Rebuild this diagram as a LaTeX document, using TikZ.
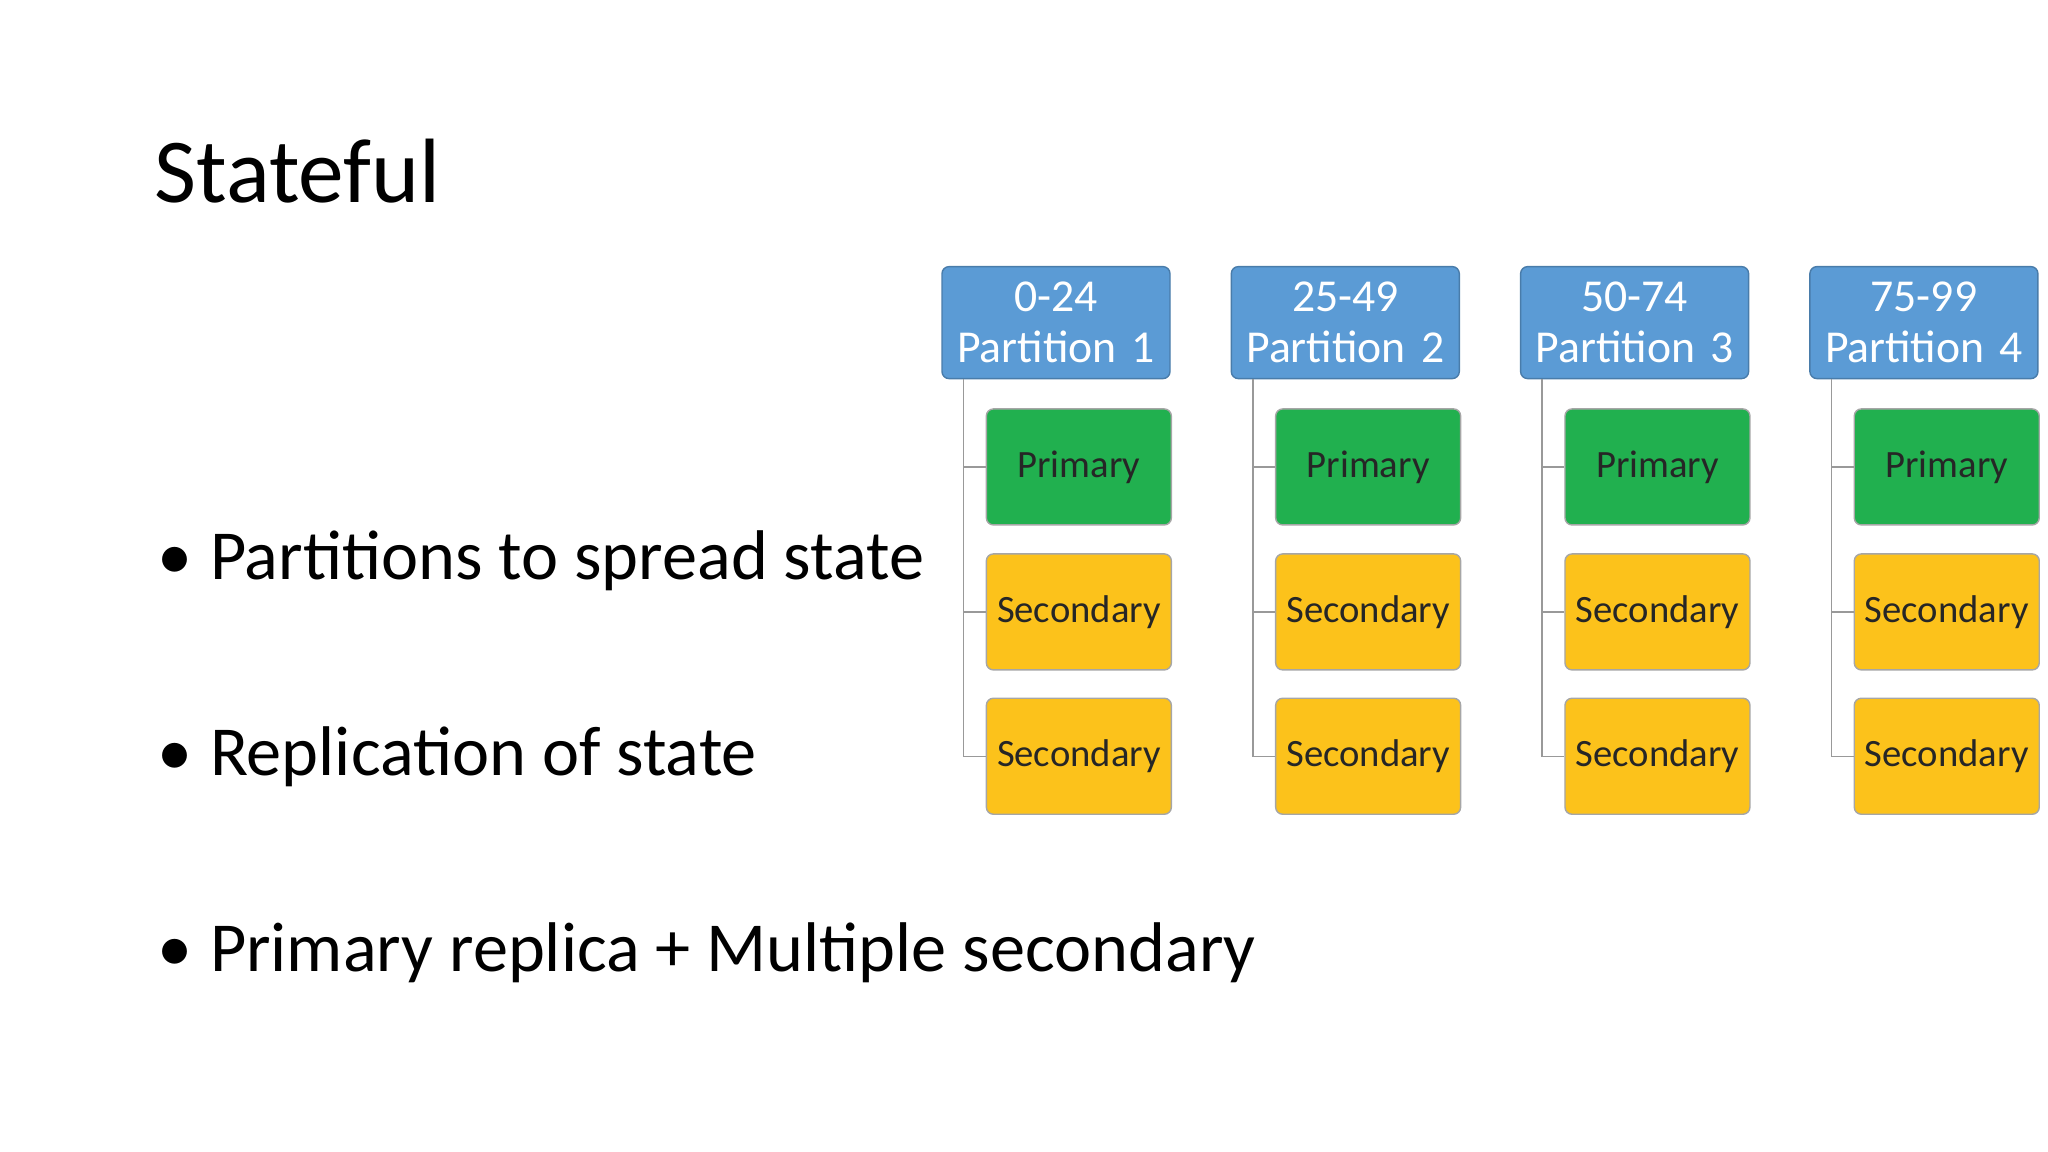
\documentclass[tikz,border=0pt]{standalone}
\usepackage{fontspec}
\setmainfont{Carlito}
\usetikzlibrary{positioning,calc}
\definecolor{partblue}{HTML}{5B9BD5}
\definecolor{primgreen}{HTML}{21B04F}
\definecolor{secyellow}{HTML}{FCC21B}
\tikzset{
  part/.style={draw=partblue!80!black, fill=partblue, rounded corners=2pt, text=white, text width=2.28cm, minimum height=1.12cm, align=center, font=\fontsize{13}{14.5}\selectfont, inner sep=0pt},
  replica/.style={draw=black!35, rounded corners=2pt, text width=1.85cm, minimum height=1.16cm, align=center, inner sep=0pt, font=\fontsize{11}{13}\selectfont, text=black!85},
  prim/.style={replica, fill=primgreen},
  sec/.style={replica, fill=secyellow},
  bullet/.style={anchor=base west, inner sep=0, font=\fontsize{20}{24}\selectfont}
}
\begin{document}
\begin{tikzpicture}[x=0.01306cm, y=-0.01306cm]
\useasboundingbox (0,0) rectangle (1568,882);
% title and bullets
\node[anchor=base west, font=\fontsize{26}{30}\selectfont, inner sep=0] (title) at (118,155) {Stateful};
\node[bullet] (b1) at (120,444) {•\hspace{0.25em}Partitions to spread state};
\node[bullet] (b2) at (120,594) {•\hspace{0.25em}Replication of state};
\node[bullet] (b3) at (120,744) {•\hspace{0.25em}Primary replica + Multiple secondary};
% partitions
\foreach \i/\r in {1/0-24, 2/25-49, 3/50-74, 4/75-99} {
  \pgfmathsetmacro{\px}{808.5+221.5*(\i-1)}
  \node[part] (p\i) at (\px,247) {\r\\Partition \i};
  \node[prim] (r\i a) at (\px+17.5,357.5) {Primary};
  \node[sec] (r\i b) at (\px+17.5,468.5) {Secondary};
  \node[sec] (r\i c) at (\px+17.5,579) {Secondary};
  \coordinate (t\i) at ($(p\i.south west)+(17,0)$);
  \draw[black!40] (t\i) |- (r\i c.west);
  \draw[black!40] (t\i |- r\i a.west) -- (r\i a.west);
  \draw[black!40] (t\i |- r\i b.west) -- (r\i b.west);
}
\end{tikzpicture}
\end{document}
